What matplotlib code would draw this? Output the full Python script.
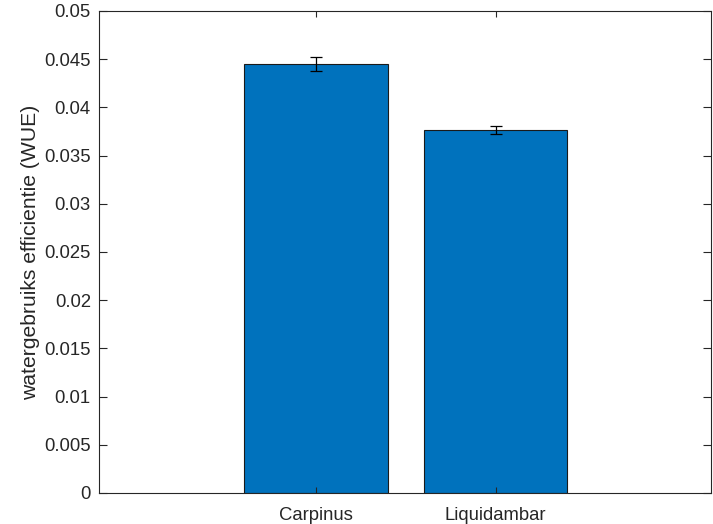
import matplotlib
matplotlib.use('Agg')
from matplotlib import pyplot as plt

plt.rcParams['font.family'] = ['Liberation Sans', 'DejaVu Sans']

soorten = ['Carpinus', 'Liquidambar']
wue = [0.0445, 0.03766]
fout = [0.00076, 0.00038]

fig = plt.figure(figsize=(7.13, 5.24), dpi=100)
ax = fig.add_axes([0.139, 0.0592, 0.858, 0.920])

x = [1, 2]
ax.bar(x, wue, width=0.8, color='#0072BD', edgecolor='#1a1a1a', linewidth=0.8, zorder=2)
ax.errorbar(x, wue, yerr=fout, fmt='none', ecolor='black', elinewidth=0.9,
            capsize=4.3, capthick=0.9, zorder=3)

ax.set_xlim(-0.206, 3.198)
ax.set_ylim(0, 0.05)
ax.set_xticks(x)
ax.set_xticklabels(soorten)
ax.set_yticks([i * 0.005 for i in range(11)])
ax.set_yticklabels(['0'] + ['%g' % (i * 0.005) for i in range(1, 11)])
ax.set_ylabel('watergebruiks efficientie (WUE)', fontsize=15.2, color='#262626', labelpad=3)

ax.tick_params(direction='in', length=6, width=0.8, colors='#262626',
               labelsize=13.3, top=True, right=True, pad=6)
ax.tick_params(axis='x', length=4, pad=10)
for s in ax.spines.values():
    s.set_color('#262626')
    s.set_linewidth(0.8)
ax.set_axisbelow(False)

fig.savefig('out.png', dpi=100)
